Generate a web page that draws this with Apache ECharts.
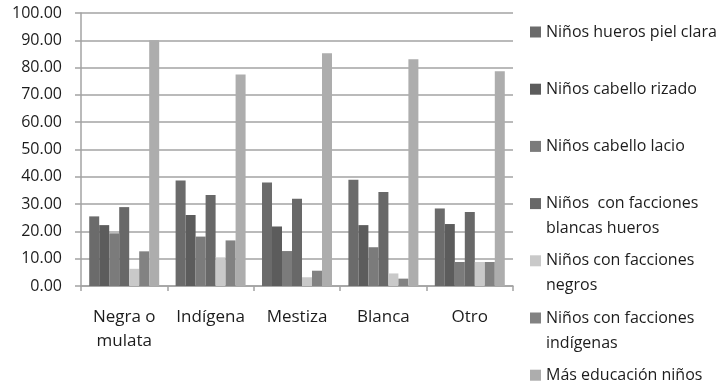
<!DOCTYPE html>
<html>
<head>
<meta charset="utf-8">
<script src="https://cdn.jsdelivr.net/npm/echarts@6/dist/echarts.min.js"></script>
<style>
  html, body { margin: 0; padding: 0; background: #fff; }
  #chart { width: 717px; height: 387px; }
</style>
</head>
<body>
<div id="chart"></div>
<script>
// Groups along the x axis
const categories = ['Negra o\nmulata', 'Indígena', 'Mestiza', 'Blanca', 'Otro'];

// Series names (line breaks as shown in the legend)
const seriesNames = [
  'Niños hueros piel clara',
  'Niños cabello rizado',
  'Niños cabello lacio',
  'Niños  con facciones\nblancas hueros',
  'Niños con facciones\nnegros',
  'Niños con facciones\nindígenas',
  'Más educación niños'
];

// Percentages per group
const huerosPielClara      = [25.5, 38.6, 37.9, 38.9, 28.4];
const cabelloRizado        = [22.3, 26.0, 21.8, 22.3, 22.7];
const cabelloLacio         = [19.3, 18.1, 12.8, 14.2, 8.8];
const faccionesBlancas     = [28.9, 33.3, 32.0, 34.4, 27.1];
const faccionesNegros      = [6.3, 10.5, 3.2, 4.6, 8.8];
const faccionesIndigenas   = [12.7, 16.7, 5.6, 2.7, 8.8];
const masEducacion         = [90.0, 77.5, 85.3, 83.1, 78.7];

// Value axis ticks
const yTicks = { min: 0, max: 100, interval: 10 };

const seriesValues = [
  huerosPielClara, cabelloRizado, cabelloLacio, faccionesBlancas,
  faccionesNegros, faccionesIndigenas, masEducacion
];
const colors = ['#6b6b6b', '#5c5c5c', '#7b7b7b', '#686868', '#c9c9c9', '#828282', '#adadad'];

const FONT = 'Open Sans';
const TEXT = '#1c1c1c';
const GRID = '#a3a3a3';

// One legend block per series so every entry sits on an even vertical rhythm.
// Wrapped entries get an empty leading line, so the swatch (centred on the
// text block) lines up with the first visible line.
const LEG_LH = 25, LEG_FIRST = 32, LEG_STEP = 57.2;
const legends = seriesNames.map((name, i) => {
  const lines = name.split('\n').length;
  const center = LEG_FIRST + i * LEG_STEP;
  const top = lines > 1 ? center - 1.5 * LEG_LH : center - LEG_LH / 2;
  return {
    data: [name],
    left: 530,
    top: top,
    padding: 0,
    orient: 'vertical',
    icon: 'rect',
    itemWidth: 11,
    itemHeight: 11,
    selectedMode: false,
    formatter: n => (n.indexOf('\n') >= 0 ? '\n' + n : n),
    textStyle: {
      fontFamily: FONT,
      fontSize: 16,
      color: TEXT,
      lineHeight: LEG_LH
    }
  };
});

const chart = echarts.init(document.getElementById('chart'), null, { renderer: 'canvas' });
chart.setOption({
  animation: false,
  color: colors,
  grid: { left: 81, right: 204, top: 13, bottom: 101 },
  legend: legends,
  xAxis: {
    type: 'category',
    data: categories,
    axisLine: { lineStyle: { color: GRID, width: 1.5 } },
    axisTick: { show: true, length: 5, lineStyle: { color: GRID, width: 1.5 } },
    axisLabel: {
      fontFamily: FONT, fontSize: 17, color: TEXT,
      lineHeight: 24, margin: 19, interval: 0
    }
  },
  yAxis: {
    type: 'value',
    min: yTicks.min, max: yTicks.max, interval: yTicks.interval,
    axisLine: { show: true, lineStyle: { color: GRID, width: 1.5 } },
    axisTick: { show: true, length: 6, lineStyle: { color: GRID, width: 1.5 } },
    splitLine: { lineStyle: { color: GRID, width: 1.5 } },
    axisLabel: {
      fontFamily: FONT, fontSize: 16, color: TEXT, margin: 19,
      formatter: v => v.toFixed(2)
    }
  },
  series: seriesNames.map((name, i) => ({
    type: 'bar',
    name: name,
    data: seriesValues[i],
    barGap: '0%',
    barCategoryGap: '19%',
    itemStyle: { color: colors[i] }
  }))
});
</script>
</body>
</html>
